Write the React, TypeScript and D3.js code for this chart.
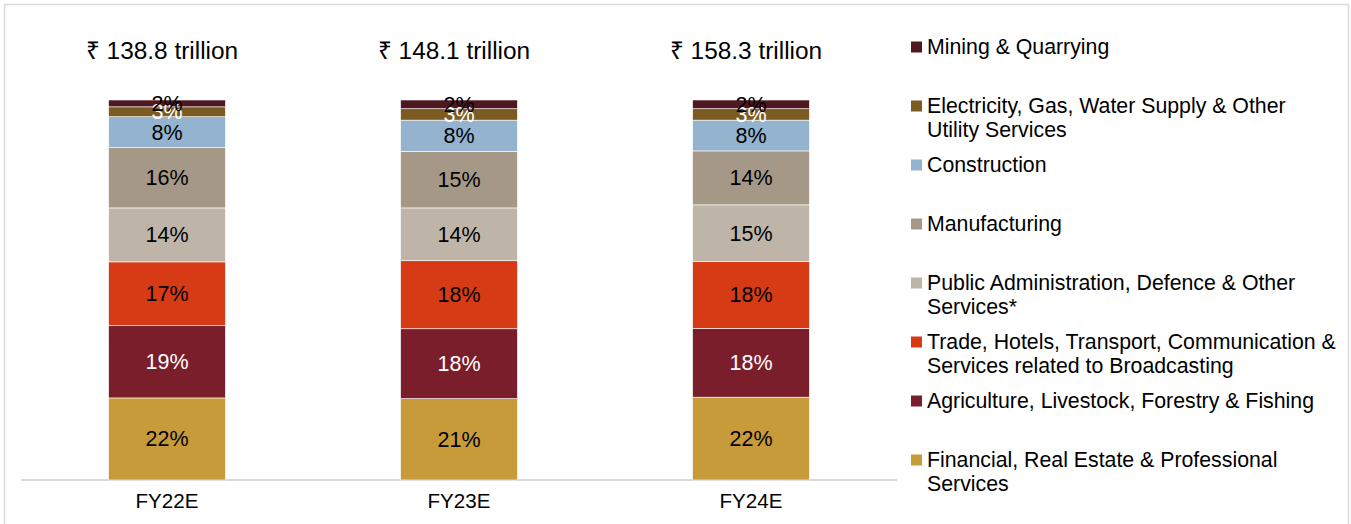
import React from "react";
import * as d3 from "d3";

const years = ["FY22E", "FY23E", "FY24E"];
const totals = ["₹ 138.8 trillion", "₹ 148.1 trillion", "₹ 158.3 trillion"];

// stack order bottom -> top
const sectors = [
  "Financial, Real Estate & Professional Services",
  "Agriculture, Livestock, Forestry & Fishing",
  "Trade, Hotels, Transport, Communication & Services related to Broadcasting",
  "Public Administration, Defence & Other Services*",
  "Manufacturing",
  "Construction",
  "Electricity, Gas, Water Supply & Other Utility Services",
  "Mining & Quarrying",
];

const legendLines = [
  ["Financial, Real Estate & Professional", "Services"],
  ["Agriculture, Livestock, Forestry & Fishing"],
  ["Trade, Hotels, Transport, Communication &", "Services related to Broadcasting"],
  ["Public Administration, Defence & Other", "Services*"],
  ["Manufacturing"],
  ["Construction"],
  ["Electricity, Gas, Water Supply & Other", "Utility Services"],
  ["Mining & Quarrying"],
];

const colors = ["#C89B3A", "#7B1E2B", "#D63B15", "#BEB5A8", "#A69886", "#93B3CE", "#7B5B22", "#4F1820"];
const labelColors = ["#000", "#fff", "#000", "#000", "#000", "#000", "#fff", "#000"];

// shares (%) per sector, per year
const fy22 = [21.6, 19.0, 16.8, 14.2, 15.9, 8.1, 2.6, 1.8];
const fy23 = [21.4, 18.4, 17.9, 13.9, 14.9, 8.2, 3.0, 2.3];
const fy24 = [21.8, 18.1, 17.6, 14.9, 14.2, 8.1, 3.0, 2.3];
const values = [fy22, fy23, fy24];

const FONT = "Arial, 'Liberation Sans', Helvetica, sans-serif";

export default function App() {
  const W = 1351, H = 524;
  const x = d3.scaleBand<string>().domain(years).range([21, 897]).paddingInner(0.6).paddingOuter(0.3);
  const y = d3.scaleLinear().domain([0, 100]).range([480, 100]);

  const stacks = values.map((vals) => {
    let acc = 0;
    return vals.map((v) => {
      const s = { y0: acc, y1: acc + v, v };
      acc += v;
      return s;
    });
  });

  const legendX = 911;
  const legendTop = 47;
  const legendStep = 59;

  return (
    <svg width={W} height={H} style={{ position: "absolute", left: 0, top: 0, fontFamily: FONT }}>
      <rect x={0} y={0} width={W} height={H} fill="#fff" />
      <rect x={4.5} y={4.5} width={1344} height={540} fill="none" stroke="#d9d9d9" strokeWidth={1.5} />
      <line x1={21} x2={897} y1={480} y2={480} stroke="#d9d9d9" strokeWidth={2} />
      {years.map((yr, i) => {
        const bx = x(yr)!;
        const bw = x.bandwidth();
        const cx = bx + bw / 2;
        return (
          <g key={yr}>
            {stacks[i].map((s, j) => (
              <rect key={j} x={bx} y={y(s.y1)} width={bw} height={y(s.y0) - y(s.y1)} fill={colors[j]} stroke="#fff" strokeWidth={0.6} />
            ))}
            {stacks[i].map((s, j) => (
              <text key={"t" + j} x={cx} y={(y(s.y0) + y(s.y1)) / 2} dy="0.35em" textAnchor="middle" fontSize={21.5} fill={labelColors[j]}>
                {Math.round(s.v) + "%"}
              </text>
            ))}
            <text x={cx - 5} y={50} dy="0.35em" textAnchor="middle" fontSize={24.4} fill="#000">{totals[i]}</text>
            <text x={cx} y={501} dy="0.35em" textAnchor="middle" fontSize={20.6} fill="#000">{yr}</text>
          </g>
        );
      })}
      {sectors.map((_, k) => {
        const j = sectors.length - 1 - k;
        const ly = legendTop + k * legendStep;
        return (
          <g key={"l" + j}>
            <rect x={legendX} y={ly - 5.5} width={11} height={11} fill={colors[j]} />
            {legendLines[j].map((ln, li) => (
              <text key={li} x={927} y={ly + li * 24} dy="0.35em" fontSize={21.3} fill="#000">{ln}</text>
            ))}
          </g>
        );
      })}
    </svg>
  );
}
